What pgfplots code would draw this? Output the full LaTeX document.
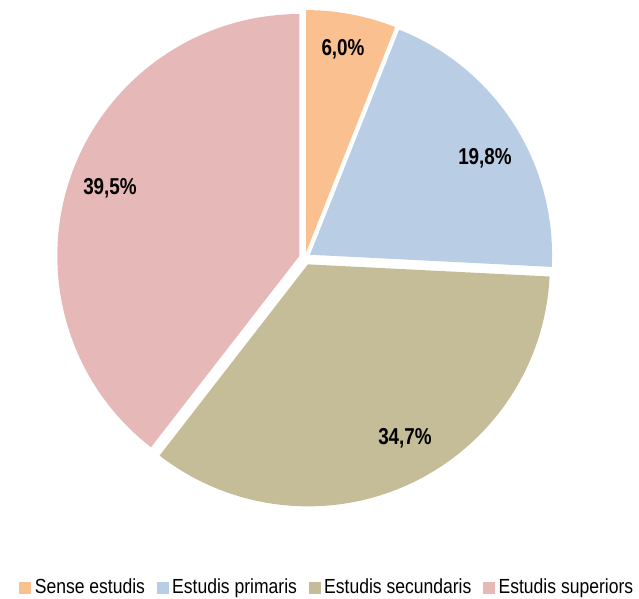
\documentclass[border=0pt]{standalone}
\usepackage{pgfplots}
\pgfplotsset{compat=1.18}
\usepackage{fontspec}
\setmainfont{Liberation Sans}[FakeStretch=0.86]
\newfontfamily\labfont{Liberation Sans}[FakeStretch=0.82]
\definecolor{cOr}{RGB}{250,192,144}
\definecolor{cBl}{RGB}{185,205,229}
\definecolor{cOl}{RGB}{196,189,151}
\definecolor{cPk}{RGB}{230,185,184}
% pie centre (axis units), radius in pt (1 axis unit = 0.5pt)
\def\cx{305}\def\cy{341}\def\R{121pt}
\gdef\cum{90}
\newcommand\pieslice[3]{% #1 value (%), #2 colour, #3 explode (axis units)
  \pgfmathsetmacro\sa{\cum}%
  \pgfmathsetmacro\ea{\cum-3.6*#1}%
  \pgfmathsetmacro\ma{(\sa+\ea)/2}%
  \pgfmathsetmacro\vx{\cx+#3*cos(\ma)}%
  \pgfmathsetmacro\vy{\cy+#3*sin(\ma)}%
  \edef\tmp{\noexpand\fill[#2] (axis cs:\vx,\vy) -- ++(\sa:\R) arc[start angle=\sa, end angle=\ea, radius=\R] -- cycle;}%
  \tmp
  \xdef\cum{\ea}%
}
\begin{document}
\begin{tikzpicture}
\begin{axis}[
  scale only axis, width=319.5pt, height=299.5pt,
  xmin=0, xmax=639, ymin=0, ymax=599,
  hide axis, clip=false,
  legend columns=4,
  legend style={at={(axis cs:328,11)}, anchor=center, draw=none, fill=none,
    font=\fontsize{10.2}{12}\selectfont,
    nodes={inner sep=1.8pt},
    /tikz/every even column/.append style={column sep=4pt}},
]
\addplot[draw=none, forget plot] coordinates {(0,0) (639,599)};
\pieslice{6.0}{cOr}{6}
\pieslice{19.8}{cBl}{6}
\pieslice{34.7}{cOl}{7}
\pieslice{39.5}{cPk}{6}
\addlegendimage{legend image code/.code={\fill[cOr] (0pt,-2.8pt) rectangle (5.6pt,2.8pt);}}
\addlegendentry{Sense estudis}
\addlegendimage{legend image code/.code={\fill[cBl] (0pt,-2.8pt) rectangle (5.6pt,2.8pt);}}
\addlegendentry{Estudis primaris}
\addlegendimage{legend image code/.code={\fill[cOl] (0pt,-2.8pt) rectangle (5.6pt,2.8pt);}}
\addlegendentry{Estudis secundaris}
\addlegendimage{legend image code/.code={\fill[cPk] (0pt,-2.8pt) rectangle (5.6pt,2.8pt);}}
\addlegendentry{Estudis superiors}
\node[font=\labfont\bfseries\fontsize{11.5}{13}\selectfont] at (axis cs:343,549.5) {6,0\%};
\node[font=\labfont\bfseries\fontsize{11.5}{13}\selectfont] at (axis cs:485,441) {19,8\%};
\node[font=\labfont\bfseries\fontsize{11.5}{13}\selectfont] at (axis cs:405,161) {34,7\%};
\node[font=\labfont\bfseries\fontsize{11.5}{13}\selectfont] at (axis cs:110,411) {39,5\%};
\end{axis}
\pgfresetboundingbox
\path (current axis.south west) rectangle (current axis.north east);
\end{tikzpicture}
\end{document}
